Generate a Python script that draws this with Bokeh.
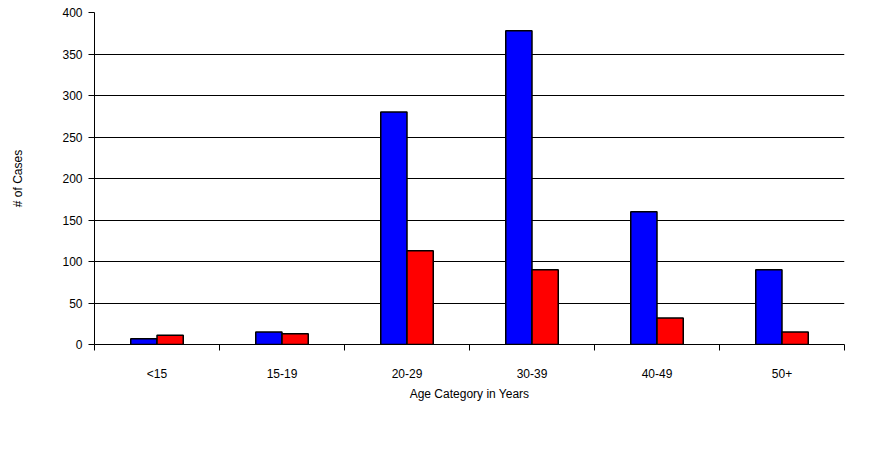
from bokeh.plotting import figure
from bokeh.models import FixedTicker, Range1d, Legend, LegendItem
from bokeh.embed import file_html
from bokeh.resources import INLINE

categories = ["<15", "15-19", "20-29", "30-39", "40-49", "50+"]
males = [7, 15, 280, 378, 160, 90]
females = [11, 13, 113, 90, 32, 15]
series = ["Males", "Females"]
colors = ["#0000ff", "#ff0000"]

FONT = "Liberation Sans"

p = figure(frame_width=750, frame_height=332, output_backend="svg", toolbar_location=None,
           x_range=Range1d(0, 6), y_range=Range1d(0, 400),
           min_border_left=94, min_border_right=10, min_border_top=12, min_border_bottom=0)
p.outline_line_color = None
p.xgrid.grid_line_color = None
p.ygrid.grid_line_color = "black"
p.ygrid.grid_line_width = 1

centers = [i + 0.5 for i in range(len(categories))]
rm = p.vbar(x=[c - 0.105 for c in centers], top=males, width=0.21,
            fill_color=colors[0], line_color="black", line_width=1.5)
rf = p.vbar(x=[c + 0.105 for c in centers], top=females, width=0.21,
            fill_color=colors[1], line_color="black", line_width=1.5)

# category labels at centres, tick marks between categories
p.xaxis.ticker = FixedTicker(ticks=centers, minor_ticks=list(range(7)))
p.xaxis.major_label_overrides = {c: t for c, t in zip(centers, categories)}
p.xaxis.major_tick_line_color = None
p.xaxis.minor_tick_in = 0
p.xaxis.minor_tick_out = 6
p.xaxis.minor_tick_line_color = "black"
p.xaxis.axis_line_color = "black"
p.xaxis.major_label_text_font = FONT
p.xaxis.major_label_text_font_size = "12px"
p.xaxis.major_label_text_color = "black"
p.xaxis.major_label_standoff = 16
p.xaxis.axis_label = "Age Category in Years"
p.xaxis.axis_label_text_font = FONT
p.xaxis.axis_label_text_font_size = "12px"
p.xaxis.axis_label_text_font_style = "normal"
p.xaxis.axis_label_text_color = "black"
p.xaxis.axis_label_standoff = 3

p.yaxis.ticker = FixedTicker(ticks=list(range(0, 401, 50)))
p.yaxis.minor_tick_line_color = None
p.yaxis.major_tick_in = 0
p.yaxis.major_tick_out = 6
p.yaxis.major_label_text_font = FONT
p.yaxis.major_label_text_font_size = "12px"
p.yaxis.major_label_text_color = "black"
p.yaxis.major_label_standoff = 6
p.yaxis.axis_label = "# of Cases"
p.yaxis.axis_label_text_font = FONT
p.yaxis.axis_label_text_font_size = "12px"
p.yaxis.axis_label_text_font_style = "normal"
p.yaxis.axis_label_text_color = "black"
p.yaxis.axis_label_standoff = 34

legend = Legend(items=[LegendItem(label=series[0], renderers=[rm]),
                       LegendItem(label=series[1], renderers=[rf])],
                orientation="horizontal", location="center",
                glyph_width=9, glyph_height=9, label_standoff=4, spacing=108,
                label_text_font=FONT, label_text_font_size="12px",
                label_text_color="black", border_line_color=None,
                background_fill_alpha=0, padding=0, margin=2,
                label_height=9)
p.add_layout(legend, "below")

open("out.html", "w").write(file_html(p, INLINE))
